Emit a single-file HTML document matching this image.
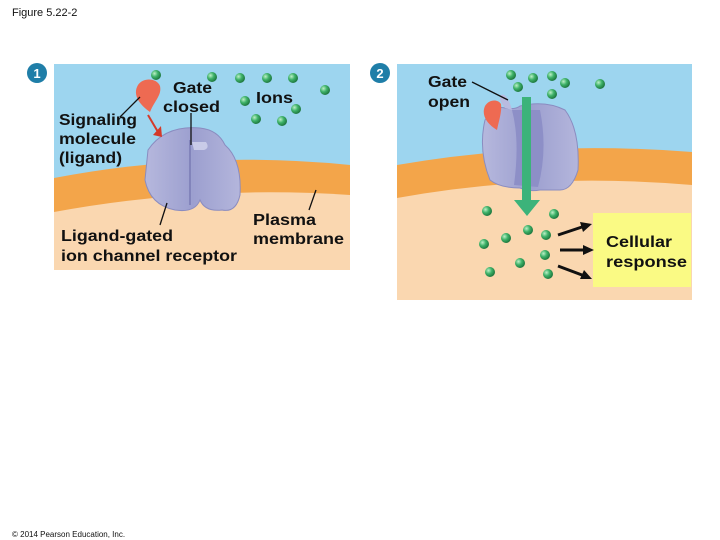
<!DOCTYPE html>
<html><head><style>
body{margin:0;background:#fff;width:720px;height:540px;overflow:hidden}
svg{display:block}
text{font-family:"Liberation Sans",Arial,sans-serif;font-weight:bold;fill:#111}
</style></head><body>
<svg width="720" height="540" viewBox="0 0 720 540">
<defs>
<radialGradient id="b" cx="35%" cy="35%" r="65%"><stop offset="0" stop-color="#bff0c8"/><stop offset="0.5" stop-color="#3fb36a"/><stop offset="1" stop-color="#1f7a40"/></radialGradient>
<linearGradient id="p" x1="0" x2="1"><stop offset="0" stop-color="#b6b8dd"/><stop offset="0.5" stop-color="#9c9fcf"/><stop offset="1" stop-color="#b4b6dc"/></linearGradient>
</defs>
<text x="12" y="16" style="font-weight:normal;font-size:11px">Figure 5.22-2</text>
<text x="12" y="537" style="font-weight:normal;font-size:8px">© 2014 Pearson Education, Inc.</text>

<!-- panel 1 -->
<rect x="54" y="64" width="296" height="206" fill="#9dd5ef"/>
<path d="M54,178 Q200,150 350,165 L350,270 L54,270Z" fill="#f3a54a"/>
<path d="M54,212 Q200,185 350,195 L350,270 L54,270Z" fill="#fad7b0"/>
<circle cx="37" cy="73" r="10" fill="#1f7ea8"/><text x="37" y="78" text-anchor="middle" style="fill:#fff;font-size:13px">1</text>
<path d="M148,150 Q165,125 200,128 Q218,130 225,145 Q242,160 240,195 Q236,213 222,210 Q205,212 200,200 Q195,213 175,210 Q150,205 145,180 Z" fill="url(#p)" stroke="#8a8cc0"/>
<path d="M190,140 L190,205" stroke="#8284bb" stroke-width="2"/>
<path d="M192,142 L206,142 Q210,148 204,150 L194,150Z" fill="#c9cbe8"/>
<path d="M150,112 C140,105 132,95 138,85 C143,77 157,78 160,86 C162,95 155,100 150,112Z" fill="#ee6a52"/>
<path d="M148,115 L158,132" stroke="#d43a2a" stroke-width="2"/><path d="M153,135 L162,137 L161,126Z" fill="#d43a2a"/>
<line x1="140" y1="97" x2="120" y2="117" stroke="#111" stroke-width="1.3"/>
<line x1="191" y1="113" x2="191" y2="145" stroke="#111" stroke-width="1.3"/>
<line x1="167" y1="203" x2="160" y2="225" stroke="#111" stroke-width="1.3"/>
<line x1="316" y1="190" x2="309" y2="210" stroke="#111" stroke-width="1.3"/>
<text x="59" y="125" font-size="16" textLength="78" lengthAdjust="spacingAndGlyphs">Signaling</text>
<text x="59" y="144" font-size="16" textLength="77" lengthAdjust="spacingAndGlyphs">molecule</text>
<text x="59" y="163" font-size="16" textLength="63" lengthAdjust="spacingAndGlyphs">(ligand)</text>
<text x="173" y="93" font-size="16" textLength="39" lengthAdjust="spacingAndGlyphs">Gate</text>
<text x="163" y="112" font-size="16" textLength="57" lengthAdjust="spacingAndGlyphs">closed</text>
<text x="256" y="103" font-size="16" textLength="37" lengthAdjust="spacingAndGlyphs">Ions</text>
<text x="61" y="241" font-size="16" textLength="112" lengthAdjust="spacingAndGlyphs">Ligand-gated</text>
<text x="61" y="261" font-size="16" textLength="176" lengthAdjust="spacingAndGlyphs">ion channel receptor</text>
<text x="253" y="225" font-size="16" textLength="63" lengthAdjust="spacingAndGlyphs">Plasma</text>
<text x="253" y="244" font-size="16" textLength="91" lengthAdjust="spacingAndGlyphs">membrane</text>
<g fill="url(#b)">
<circle cx="156" cy="75" r="5"/><circle cx="212" cy="77" r="5"/><circle cx="240" cy="78" r="5"/><circle cx="267" cy="78" r="5"/><circle cx="293" cy="78" r="5"/><circle cx="245" cy="101" r="5"/><circle cx="296" cy="109" r="5"/><circle cx="256" cy="119" r="5"/><circle cx="282" cy="121" r="5"/><circle cx="325" cy="90" r="5"/>
</g>

<!-- panel 2 -->
<rect x="397" y="64" width="295" height="236" fill="#9dd5ef"/>
<path d="M397,165 Q540,140 692,152 L692,300 L397,300Z" fill="#f3a54a"/>
<path d="M397,198 Q540,172 692,185 L692,300 L397,300Z" fill="#fad7b0"/>
<circle cx="380" cy="73" r="10" fill="#1f7ea8"/><text x="380" y="78" text-anchor="middle" style="fill:#fff;font-size:13px">2</text>
<path d="M485,120 Q495,105 505,108 Q515,110 520,106 Q545,100 565,110 Q580,130 578,170 Q572,190 560,190 L540,190 Q530,192 520,188 Q500,188 490,180 Q478,150 485,120Z" fill="url(#p)" stroke="#8a8cc0"/>
<path d="M512,110 Q520,140 514,185 L538,187 Q548,150 540,110Z" fill="#8d8fc7"/>
<path d="M505,108 Q498,100 501,95 Q507,92 512,110Z" fill="#b9bbe0"/>
<path d="M497,130 C487,124 481,115 485,106 C489,99 498,99 501,104 C502,112 499,120 497,130Z" fill="#ee6a52"/>
<line x1="472" y1="82" x2="508" y2="100" stroke="#111" stroke-width="1.3"/>
<rect x="522" y="97" width="9" height="105" fill="#3cb37a"/>
<path d="M514,200 L540,200 L527,216Z" fill="#3cb37a"/>
<rect x="593" y="213" width="98" height="74" fill="#fafa84"/>
<text x="428" y="87" font-size="16" textLength="39" lengthAdjust="spacingAndGlyphs">Gate</text>
<text x="428" y="107" font-size="16" textLength="42" lengthAdjust="spacingAndGlyphs">open</text>
<text x="606" y="247" font-size="16" textLength="66" lengthAdjust="spacingAndGlyphs">Cellular</text>
<text x="606" y="267" font-size="16" textLength="81" lengthAdjust="spacingAndGlyphs">response</text>
<g stroke="#111" stroke-width="3" fill="#111">
<line x1="558" y1="235" x2="582" y2="227"/><line x1="560" y1="250" x2="584" y2="250"/><line x1="558" y1="266" x2="582" y2="275"/>
</g>
<path d="M592,224 L580,222 L583,232Z M594,250 L583,245 L583,255Z M592,279 L584,270 L580,279Z" fill="#111"/>
<g fill="url(#b)">
<circle cx="511" cy="75" r="5"/><circle cx="533" cy="78" r="5"/><circle cx="552" cy="76" r="5"/><circle cx="565" cy="83" r="5"/><circle cx="518" cy="87" r="5"/><circle cx="552" cy="94" r="5"/><circle cx="600" cy="84" r="5"/>
<circle cx="487" cy="211" r="5"/><circle cx="554" cy="214" r="5"/><circle cx="528" cy="230" r="5"/><circle cx="546" cy="235" r="5"/><circle cx="506" cy="238" r="5"/><circle cx="484" cy="244" r="5"/><circle cx="545" cy="255" r="5"/><circle cx="520" cy="263" r="5"/><circle cx="490" cy="272" r="5"/><circle cx="548" cy="274" r="5"/>
</g>
</svg>
</body></html>
